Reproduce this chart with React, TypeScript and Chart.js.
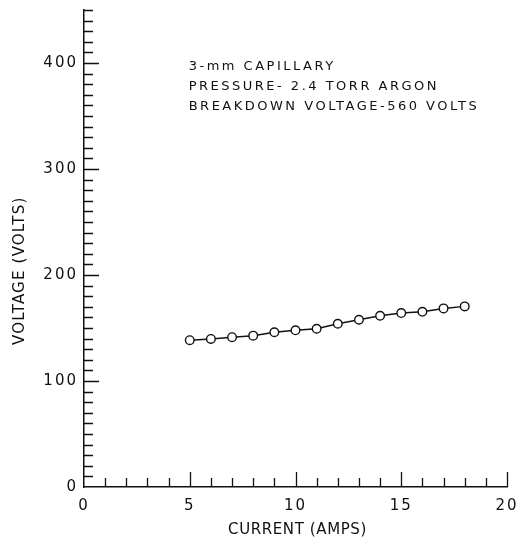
import React, { useEffect, useRef } from "react";
import { Chart, registerables } from "chart.js";

Chart.register(...registerables);

// ---- Data ----
const currentAmps = [5, 6, 7, 8, 9, 10, 11, 12, 13, 14, 15, 16, 17, 18];
const voltageVolts = [138.5, 139.7, 141.3, 142.8, 146.0, 147.8, 149.3, 154.0, 157.8, 161.5, 164.1, 165.3, 168.5, 170.4];
const xTickValues = [0, 5, 10, 15, 20];
const yTickValues = [0, 100, 200, 300, 400];
const annotationLines = ["3-mm CAPILLARY", "PRESSURE- 2.4 TORR ARGON", "BREAKDOWN VOLTAGE-560 VOLTS"];
const annotationAnchor = [4.95, 397];
const xTitle = "CURRENT (AMPS)";
const yTitle = "VOLTAGE (VOLTS)";
const X_MIN = 0;
const X_MAX = 20;
const Y_MIN = 0;
const Y_MAX = 450;
const X_MINOR_STEP = 1;
const Y_MINOR_STEP = 10;

const INK = "#111111";
const FONT = "'DejaVu Sans', sans-serif";

const textLayersPlugin = {
  id: "textLayers",
  beforeDraw(chart: any) {
    (chart.ctx as any).letterSpacing = "0px";
  },
  afterDatasetsDraw(chart: any) {
    // tick labels (drawn in a later layer) get wide lettering
    (chart.ctx as any).letterSpacing = "2px";
  },
  afterDraw(chart: any) {
    const { ctx, chartArea, scales } = chart;
    const xs = scales.x;
    const ys = scales.y;

    // inward tick marks
    ctx.save();
    (ctx as any).letterSpacing = "0px";
    ctx.strokeStyle = INK;
    ctx.lineWidth = 1.3;
    ctx.beginPath();
    for (let v = X_MIN + X_MINOR_STEP; v <= X_MAX + 1e-9; v += X_MINOR_STEP) {
      const px = Math.round(xs.getPixelForValue(v)) + 0.5;
      const major = xTickValues.includes(v);
      ctx.moveTo(px, chartArea.bottom);
      ctx.lineTo(px, chartArea.bottom - (major ? 15 : 9));
    }
    for (let v = Y_MIN + Y_MINOR_STEP; v <= Y_MAX + 1e-9; v += Y_MINOR_STEP) {
      const py = Math.round(ys.getPixelForValue(v)) + 0.5;
      const major = yTickValues.includes(v);
      ctx.moveTo(chartArea.left, py);
      ctx.lineTo(chartArea.left + (major ? 15 : 9), py);
    }
    ctx.stroke();
    ctx.restore();

    // annotation block
    ctx.save();
    (ctx as any).letterSpacing = "2.5px";
    ctx.fillStyle = INK;
    ctx.font = `13px ${FONT}`;
    ctx.textAlign = "left";
    ctx.textBaseline = "middle";
    const ax = xs.getPixelForValue(annotationAnchor[0]);
    const ay = ys.getPixelForValue(annotationAnchor[1]);
    annotationLines.forEach((line, i) => {
      ctx.fillText(line, ax, ay + i * 20);
    });
    ctx.restore();

    // axis titles
    ctx.save();
    ctx.fillStyle = INK;
    ctx.font = `15px ${FONT}`;
    ctx.textAlign = "center";
    ctx.textBaseline = "middle";
    (ctx as any).letterSpacing = "0.6px";
    ctx.fillText(xTitle, (chartArea.left + chartArea.right) / 2 + 2, chartArea.bottom + 43);
    (ctx as any).letterSpacing = "1.2px";
    ctx.translate(20, ys.getPixelForValue(204));
    ctx.rotate(-Math.PI / 2);
    ctx.fillText(yTitle, 0, 0);
    ctx.restore();

    (ctx as any).letterSpacing = "0px";
  },
};

export default function App() {
  const canvasRef = useRef<HTMLCanvasElement | null>(null);

  useEffect(() => {
    const canvas = canvasRef.current;
    if (!canvas) return;
    const chart = new Chart(canvas, {
      type: "line",
      data: {
        datasets: [
          {
            data: currentAmps.map((x, i) => ({ x, y: voltageVolts[i] })),
            borderColor: INK,
            borderWidth: 1.5,
            pointRadius: 4.3,
            pointBackgroundColor: "#ffffff",
            pointBorderColor: INK,
            pointBorderWidth: 1.4,
            tension: 0,
            fill: false,
          },
        ],
      },
      options: {
        animation: false,
        responsive: false,
        maintainAspectRatio: false,
        events: [],
        layout: { padding: { top: 10, right: 0, left: 0, bottom: 0 } },
        plugins: {
          legend: { display: false },
          tooltip: { enabled: false },
        },
        scales: {
          x: {
            type: "linear",
            min: X_MIN,
            max: X_MAX,
            afterFit: (s: any) => {
              s.height = 57;
              s.paddingRight = 10;
            },
            afterBuildTicks: (s: any) => {
              s.ticks = xTickValues.map((value) => ({ value }));
            },
            grid: { display: true, drawOnChartArea: false, drawTicks: false },
            border: { display: true, color: INK, width: 1.5 },
            ticks: {
              z: 1,
              padding: 10,
              color: INK,
              font: { family: FONT, size: 15 },
              maxRotation: 0,
            },
          },
          y: {
            type: "linear",
            min: Y_MIN,
            max: Y_MAX,
            afterFit: (s: any) => {
              s.width = 84;
              s.paddingTop = 0;
            },
            afterBuildTicks: (s: any) => {
              s.ticks = yTickValues.map((value) => ({ value }));
            },
            grid: { display: true, drawOnChartArea: false, drawTicks: false },
            border: { display: true, color: INK, width: 1.5 },
            ticks: {
              z: 1,
              padding: 6,
              color: INK,
              font: { family: FONT, size: 15 },
            },
          },
        },
      },
      plugins: [textLayersPlugin],
    });
    return () => chart.destroy();
  }, []);

  return (
    <div style={{ position: "absolute", left: 0, top: 0, width: 517, height: 544, background: "#fff" }}>
      <canvas ref={canvasRef} width={517} height={544} style={{ display: "block" }} />
    </div>
  );
}
